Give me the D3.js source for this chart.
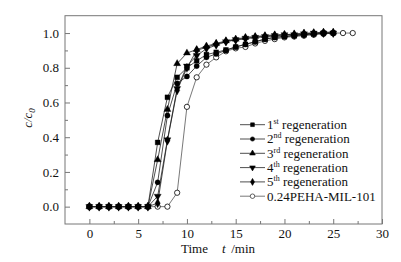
<!DOCTYPE html>
<html><head><meta charset="utf-8">
<script src="https://cdn.jsdelivr.net/npm/d3@7"></script>
<style>
html,body{margin:0;padding:0;background:#fff;}
svg text{font-family:'Liberation Serif','Times New Roman',Tinos,Times,'DejaVu Serif',serif !important;fill:#111;}
</style></head>
<body><svg id="c" width="401" height="262"></svg>
<script>
const timeReg = [0,1,2,3,4,5,6,7,8,9,10,11,12,13,14,15,16,17,18,19,20,21,22,23,24,25];
const timeRef = [0,1,2,3,4,5,6,7,8,9,10,11,12,13,14,15,16,17,18,19,20,21,22,23,24,25,26,27];
const reg1 = [0,0,0,0,0,0,0,0.37,0.63,0.745,0.80,0.84,0.876,0.889,0.903,0.92,0.935,0.95,0.965,0.975,0.98,0.985,0.99,0.995,1.0,1.0];
const reg2 = [0,0,0,0,0,0,0,0.14,0.525,0.71,0.75,0.81,0.86,0.88,0.90,0.92,0.935,0.95,0.965,0.975,0.98,0.985,0.99,0.995,1.0,1.0];
const reg3 = [0,0,0,0,0,0,0,0.27,0.56,0.824,0.885,0.905,0.925,0.94,0.955,0.965,0.975,0.98,0.985,0.99,0.99,0.995,1.0,1.0,1.005,1.005];
const reg4 = [0,0,0,0,0,0,0,0.06,0.385,0.68,0.81,0.87,0.91,0.93,0.95,0.962,0.97,0.975,0.98,0.985,0.99,0.99,0.995,1.0,1.0,1.0];
const reg5 = [0,0,0,0,0,0,0,0.02,0.38,0.67,0.80,0.90,0.918,0.937,0.952,0.96,0.968,0.975,0.98,0.985,0.99,0.99,0.995,1.0,1.0,1.0];
const refMIL = [0,0,0,0,0,0,0,0,0,0.08,0.575,0.745,0.818,0.86,0.895,0.912,0.92,0.94,0.955,0.965,0.975,0.98,0.985,0.99,0.995,1.0,1.0,1.0];
const seriesNames = ["1st regeneration","2nd regeneration","3rd regeneration","4th regeneration","5th regeneration","0.24PEHA-MIL-101"];
const xTicks = [0,5,10,15,20,25,30];
const xMinor = [2.5,7.5,12.5,17.5,22.5,27.5];
const yTicks = [0,0.2,0.4,0.6,0.8,1.0];
const yMinor = [0.1,0.3,0.5,0.7,0.9];

const series = [
  {t: timeReg, v: reg1, sym: d3.symbolSquare, fill: "#000", name: ["1","st"," regeneration"]},
  {t: timeReg, v: reg2, sym: d3.symbolCircle, fill: "#000", name: ["2","nd"," regeneration"]},
  {t: timeReg, v: reg3, sym: d3.symbolTriangle, fill: "#000", name: ["3","rd"," regeneration"]},
  {t: timeReg, v: reg4, sym: "down", fill: "#000", name: ["4","th"," regeneration"]},
  {t: timeReg, v: reg5, sym: d3.symbolDiamond, fill: "#000", name: ["5","th"," regeneration"]},
  {t: timeRef, v: refMIL, sym: d3.symbolCircle, fill: "#fff", name: [seriesNames[5],"",""]}
];

const FONT = "'Liberation Serif','Times New Roman',Tinos,Times,'DejaVu Serif',serif";
const svg = d3.select("#c").attr("font-family", FONT);
const x = d3.scaleLinear().domain([-2.5, 30]).range([65, 382]);
const y = d3.scaleLinear().domain([-0.1, 1.1]).range([224, 15.7]);
const frameColor = "#777";

svg.append("rect").attr("x", x(-2.5)).attr("y", y(1.1))
  .attr("width", x(30)-x(-2.5)).attr("height", y(-0.1)-y(1.1))
  .attr("fill","none").attr("stroke",frameColor).attr("stroke-width",1);

function styleAxis(g){
  g.attr("font-family", FONT);
  g.select(".domain").remove();
  g.selectAll("line").attr("stroke",frameColor);
  g.selectAll("text").attr("font-family", FONT).attr("font-size",13).attr("fill","#111");
}
const gx = svg.append("g").attr("transform",`translate(0,${y(-0.1)})`)
  .call(d3.axisBottom(x).tickValues(xTicks).tickSize(-5).tickSizeOuter(0).tickPadding(5).tickFormat(d3.format("d")));
styleAxis(gx);
const gxm = svg.append("g").attr("transform",`translate(0,${y(-0.1)})`)
  .call(d3.axisBottom(x).tickValues(xMinor).tickSize(-3).tickSizeOuter(0).tickFormat(""));
styleAxis(gxm);
const gy = svg.append("g").attr("transform",`translate(${x(-2.5)},0)`)
  .call(d3.axisLeft(y).tickValues(yTicks).tickSize(-5).tickSizeOuter(0).tickPadding(6).tickFormat(d3.format(".1f")));
styleAxis(gy);
const gym = svg.append("g").attr("transform",`translate(${x(-2.5)},0)`)
  .call(d3.axisLeft(y).tickValues(yMinor).tickSize(-3).tickSizeOuter(0).tickFormat(""));
styleAxis(gym);

function symPath(sym, size){
  if (sym === "down") return d3.symbol().type(d3.symbolTriangle).size(size)();
  return d3.symbol().type(sym).size(size)();
}
function symSize(s){
  if (s.sym === d3.symbolSquare) return 24;
  if (s.sym === d3.symbolDiamond) return 24;
  return 22;
}
const line = d3.line();
const order = [5,0,1,2,3,4];
order.forEach(i => {
  const s = series[i];
  const pts = s.t.map((t,k) => [x(t), y(s.v[k])]);
  svg.append("path").attr("d", line(pts)).attr("fill","none")
    .attr("stroke", i===5 ? "#555" : "#222").attr("stroke-width", 0.8);
});
order.forEach(i => {
  const s = series[i];
  const g = svg.append("g");
  s.t.forEach((t,k) => {
    g.append("path").attr("d", symPath(s.sym, symSize(s)))
      .attr("transform", `translate(${x(t)},${y(s.v[k])})${s.sym==="down"?" rotate(180)":""}`)
      .attr("fill", s.fill).attr("stroke", "#000").attr("stroke-width", i===5?0.8:0.3);
  });
});

const lg = svg.append("g");
series.forEach((s,i) => {
  const yy = 124.7 + i*14.3;
  lg.append("line").attr("x1",240).attr("x2",265).attr("y1",yy).attr("y2",yy)
    .attr("stroke", i===5 ? "#555":"#222").attr("stroke-width",0.8);
  lg.append("path").attr("d", symPath(s.sym, i===5?16:14))
    .attr("transform", `translate(252.5,${yy})${s.sym==="down"?" rotate(180)":""}`)
    .attr("fill", s.fill).attr("stroke","#000").attr("stroke-width",0.6);
  const tx = lg.append("text").attr("x",267).attr("y",yy+4.3).attr("font-size",13);
  tx.append("tspan").text(s.name[0]);
  if (s.name[1]) {
    tx.append("tspan").attr("font-size",8).attr("dy",-5).text(s.name[1]);
    tx.append("tspan").attr("dy",5).text(s.name[2]);
  }
});

const xt = svg.append("text").attr("y",253).attr("font-size",13);
xt.append("tspan").attr("x",181).text("Time");
xt.append("tspan").attr("x",222).attr("font-style","italic").text("t");
xt.append("tspan").attr("x",228).text(" /min");

const yt = svg.append("text").attr("transform","translate(32,118) rotate(-90)")
  .attr("text-anchor","middle").attr("font-size",13).attr("font-style","italic");
yt.append("tspan").text("c/c");
yt.append("tspan").attr("font-size",9).attr("dy",3).text("0");
</script>
</body></html>
